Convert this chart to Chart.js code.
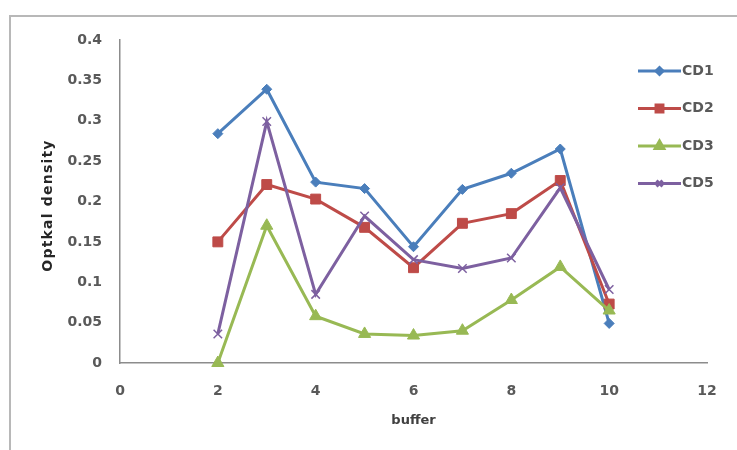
<!DOCTYPE html>
<html>
<head>
<meta charset="utf-8">
<script src="https://cdn.jsdelivr.net/npm/chart.js@4/dist/chart.umd.min.js"></script>
<style>
  html, body { margin: 0; padding: 0; background: #ffffff; }
  #wrap { position: relative; width: 737px; height: 450px; }
</style>
</head>
<body>
<div id="wrap"><canvas id="c" width="737" height="450"></canvas></div>
<script>
// Buffer number on the x axis
const buffers = [2, 3, 4, 5, 6, 7, 8, 9, 10];

// Optical density per sample
const cd1 = [0.284, 0.339, 0.224, 0.216, 0.144, 0.215, 0.235, 0.265, 0.049];
const cd2 = [0.150, 0.221, 0.203, 0.168, 0.118, 0.173, 0.185, 0.226, 0.073];
const cd3 = [0.000, 0.170, 0.058, 0.036, 0.034, 0.040, 0.078, 0.119, 0.065];
const cd5 = [0.036, 0.299, 0.085, 0.182, 0.128, 0.117, 0.130, 0.217, 0.091];

const seriesNames = ['CD1', 'CD2', 'CD3', 'CD5'];
const seriesValues = [cd1, cd2, cd3, cd5];

const xTitle = 'buffer';
const yTitle = 'Optkal density';

const styles = [
  { color: '#4a7ebb', point: 'rectRot', radius: 5 },
  { color: '#be4b48', point: 'rect', radius: 7 },
  { color: '#98b954', point: 'triangle', radius: 7 },
  { color: '#7d60a0', point: 'crossRot', radius: 6 }
];

const FONT = '"DejaVu Sans", "Liberation Sans", sans-serif';
const TEXT = '#595959';

const datasets = seriesValues.map((vals, i) => ({
  label: seriesNames[i],
  data: buffers.map((b, k) => ({ x: b, y: vals[k] })),
  borderColor: styles[i].color,
  backgroundColor: styles[i].color,
  pointBackgroundColor: styles[i].color,
  pointBorderColor: styles[i].color,
  pointStyle: styles[i].point,
  pointRadius: styles[i].radius,
  pointBorderWidth: styles[i].point === 'crossRot' ? 1.5 : 1,
  borderWidth: 3,
  tension: 0,
  clip: false,
  order: seriesValues.length - i
}));

// Frame lines along the top and left of the chart box
const framePlugin = {
  id: 'frame',
  beforeDraw(chart) {
    const ctx = chart.ctx;
    ctx.save();
    ctx.strokeStyle = '#b8b8b8';
    ctx.lineWidth = 2;
    ctx.beginPath();
    ctx.moveTo(737, 16);
    ctx.lineTo(10, 16);
    ctx.lineTo(10, 450);
    ctx.stroke();
    ctx.restore();
  }
};

// Rotated y-axis title with slightly widened letter spacing
const yTitlePlugin = {
  id: 'yTitle',
  afterDraw(chart) {
    const ctx = chart.ctx;
    const ys = chart.scales.y;
    ctx.save();
    ctx.translate(48, (ys.top + ys.bottom) / 2 + 4);
    ctx.rotate(-Math.PI / 2);
    ctx.fillStyle = '#262626';
    ctx.font = 'bold 14px ' + FONT;
    if ('letterSpacing' in ctx) ctx.letterSpacing = '1.2px';
    ctx.textAlign = 'center';
    ctx.textBaseline = 'middle';
    ctx.fillText(yTitle, 0, 0);
    ctx.restore();
  }
};

// Line-and-marker legend on the right
const legendPlugin = {
  id: 'sideLegend',
  afterDraw(chart) {
    const ctx = chart.ctx;
    const x0 = 638, x1 = 681, top = 71, gap = 37.5;
    ctx.save();
    chart.data.datasets.forEach((ds, i) => {
      const y = top + i * gap;
      ctx.strokeStyle = ds.borderColor;
      ctx.lineWidth = 3;
      ctx.beginPath();
      ctx.moveTo(x0, y);
      ctx.lineTo(x1, y);
      ctx.stroke();
      ctx.fillStyle = ds.pointBackgroundColor;
      ctx.strokeStyle = ds.pointBorderColor;
      Chart.helpers.drawPoint(ctx, {
        pointStyle: ds.pointStyle,
        radius: ds.pointRadius * 0.7,
        borderWidth: ds.pointBorderWidth,
        rotation: 0
      }, (x0 + x1) / 2, y);
      ctx.fillStyle = TEXT;
      ctx.font = 'bold 14px ' + FONT;
      ctx.textAlign = 'left';
      ctx.textBaseline = 'middle';
      ctx.fillText(ds.label, x1 + 1, y);
    });
    ctx.restore();
  }
};

new Chart(document.getElementById('c'), {
  type: 'line',
  data: { datasets },
  options: {
    responsive: false,
    animation: false,
    layout: { padding: { left: 0, right: 30, top: 40, bottom: 0 } },
    plugins: {
      legend: { display: false },
      tooltip: { enabled: false }
    },
    scales: {
      x: {
        type: 'linear',
        min: 0,
        max: 12,
        ticks: {
          stepSize: 2,
          padding: 20,
          color: TEXT,
          font: { family: FONT, size: 14, weight: 'bold' }
        },
        grid: { display: false, drawTicks: false },
        border: { display: true, color: '#8c8c8c', width: 1.5 },
        title: {
          display: true,
          text: xTitle,
          color: '#404040',
          font: { family: FONT, size: 13, weight: 'bold' },
          padding: { top: 0, bottom: 22 }
        },
        afterFit(scale) { scale.height = 87; }
      },
      y: {
        min: 0,
        max: 0.4,
        ticks: {
          stepSize: 0.05,
          padding: 18,
          color: TEXT,
          font: { family: FONT, size: 14, weight: 'bold' },
          callback: v => String(+Number(v).toFixed(2))
        },
        grid: { display: false, drawTicks: false },
        border: { display: true, color: '#8c8c8c', width: 1.5 },
        title: { display: false },
        afterFit(scale) { scale.width = 120; }
      }
    }
  },
  plugins: [framePlugin, yTitlePlugin, legendPlugin]
});
</script>
</body>
</html>
